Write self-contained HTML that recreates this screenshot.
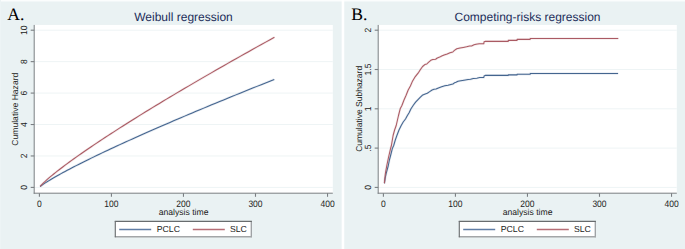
<!DOCTYPE html>
<html><head><meta charset="utf-8"><style>
html,body{margin:0;padding:0;background:#eaf2f3;}
body{width:685px;height:249px;overflow:hidden;}
svg{display:block;font-family:"Liberation Sans",sans-serif;text-rendering:geometricPrecision;}
</style></head><body>
<svg width="685" height="249" viewBox="0 0 685 249">
<rect x="0" y="0" width="685" height="249" fill="#eaf2f3"/>
<rect x="0" y="0" width="685" height="1" fill="#fbfdfd"/>
<rect x="0" y="1" width="685" height="1" fill="#f2f7f8"/>
<rect x="0" y="0" width="1" height="249" fill="#edf4f5"/>
<rect x="341.65" y="0" width="2.6" height="249" fill="#fff"/>
<rect x="34.20" y="24.95" width="298.60" height="168.25" fill="#fff"/>
<line x1="34.20" x2="332.80" y1="187.40" y2="187.40" stroke="#eef4f5" stroke-width="1"/>
<line x1="34.20" x2="332.80" y1="155.96" y2="155.96" stroke="#eef4f5" stroke-width="1"/>
<line x1="34.20" x2="332.80" y1="124.52" y2="124.52" stroke="#eef4f5" stroke-width="1"/>
<line x1="34.20" x2="332.80" y1="93.08" y2="93.08" stroke="#eef4f5" stroke-width="1"/>
<line x1="34.20" x2="332.80" y1="61.64" y2="61.64" stroke="#eef4f5" stroke-width="1"/>
<line x1="34.20" x2="332.80" y1="30.20" y2="30.20" stroke="#eef4f5" stroke-width="1"/>
<path d="M40.12,186.67 L40.45,186.39 L41.05,185.91 L41.82,185.33 L42.74,184.66 L43.78,183.94 L44.93,183.17 L46.18,182.35 L47.53,181.50 L48.96,180.61 L50.47,179.69 L52.06,178.75 L53.72,177.77 L55.46,176.77 L57.26,175.75 L59.13,174.70 L61.07,173.63 L63.06,172.54 L65.11,171.44 L67.22,170.31 L69.39,169.17 L71.61,168.00 L73.89,166.83 L76.22,165.63 L78.60,164.42 L81.03,163.19 L83.51,161.95 L86.03,160.70 L88.61,159.43 L91.23,158.15 L93.89,156.85 L96.61,155.54 L99.36,154.22 L102.16,152.89 L105.00,151.54 L107.88,150.19 L110.81,148.82 L113.77,147.44 L116.78,146.04 L119.83,144.64 L122.91,143.23 L126.04,141.80 L129.20,140.37 L132.40,138.92 L135.64,137.47 L138.91,136.00 L142.22,134.53 L145.57,133.05 L148.95,131.55 L152.37,130.05 L155.82,128.54 L159.31,127.02 L162.84,125.49 L166.39,123.95 L169.98,122.40 L173.61,120.85 L177.26,119.28 L180.95,117.71 L184.68,116.13 L188.43,114.54 L192.22,112.95 L196.04,111.34 L199.89,109.73 L203.77,108.11 L207.68,106.48 L211.62,104.84 L215.59,103.20 L219.60,101.55 L223.63,99.89 L227.69,98.23 L231.79,96.56 L235.91,94.88 L240.06,93.19 L244.24,91.50 L248.45,89.80 L252.68,88.09 L256.95,86.38 L261.24,84.66 L265.56,82.93 L269.91,81.20 L274.29,79.46" fill="none" stroke="#44658f" stroke-opacity="0.13" stroke-width="2.4" stroke-linejoin="round"/>
<path d="M40.12,186.67 L40.45,186.39 L41.05,185.91 L41.82,185.33 L42.74,184.66 L43.78,183.94 L44.93,183.17 L46.18,182.35 L47.53,181.50 L48.96,180.61 L50.47,179.69 L52.06,178.75 L53.72,177.77 L55.46,176.77 L57.26,175.75 L59.13,174.70 L61.07,173.63 L63.06,172.54 L65.11,171.44 L67.22,170.31 L69.39,169.17 L71.61,168.00 L73.89,166.83 L76.22,165.63 L78.60,164.42 L81.03,163.19 L83.51,161.95 L86.03,160.70 L88.61,159.43 L91.23,158.15 L93.89,156.85 L96.61,155.54 L99.36,154.22 L102.16,152.89 L105.00,151.54 L107.88,150.19 L110.81,148.82 L113.77,147.44 L116.78,146.04 L119.83,144.64 L122.91,143.23 L126.04,141.80 L129.20,140.37 L132.40,138.92 L135.64,137.47 L138.91,136.00 L142.22,134.53 L145.57,133.05 L148.95,131.55 L152.37,130.05 L155.82,128.54 L159.31,127.02 L162.84,125.49 L166.39,123.95 L169.98,122.40 L173.61,120.85 L177.26,119.28 L180.95,117.71 L184.68,116.13 L188.43,114.54 L192.22,112.95 L196.04,111.34 L199.89,109.73 L203.77,108.11 L207.68,106.48 L211.62,104.84 L215.59,103.20 L219.60,101.55 L223.63,99.89 L227.69,98.23 L231.79,96.56 L235.91,94.88 L240.06,93.19 L244.24,91.50 L248.45,89.80 L252.68,88.09 L256.95,86.38 L261.24,84.66 L265.56,82.93 L269.91,81.20 L274.29,79.46" fill="none" stroke="#44658f" stroke-width="1.05" stroke-linejoin="round"/>
<path d="M40.12,186.39 L40.45,186.00 L41.05,185.34 L41.82,184.52 L42.74,183.60 L43.78,182.59 L44.93,181.52 L46.19,180.38 L47.53,179.19 L48.96,177.96 L50.48,176.68 L52.07,175.36 L53.73,174.01 L55.47,172.62 L57.27,171.19 L59.14,169.74 L61.08,168.25 L63.07,166.74 L65.13,165.20 L67.24,163.63 L69.41,162.04 L71.63,160.43 L73.91,158.79 L76.24,157.13 L78.62,155.44 L81.05,153.74 L83.53,152.01 L86.06,150.27 L88.64,148.50 L91.26,146.72 L93.93,144.92 L96.64,143.10 L99.40,141.26 L102.20,139.41 L105.04,137.53 L107.93,135.65 L110.85,133.74 L113.82,131.82 L116.83,129.89 L119.88,127.93 L122.96,125.97 L126.09,123.99 L129.25,121.99 L132.46,119.98 L135.69,117.96 L138.97,115.92 L142.28,113.87 L145.63,111.81 L149.02,109.73 L152.44,107.64 L155.90,105.54 L159.39,103.43 L162.91,101.30 L166.47,99.16 L170.06,97.01 L173.69,94.84 L177.35,92.67 L181.04,90.48 L184.77,88.29 L188.52,86.08 L192.31,83.86 L196.13,81.62 L199.98,79.38 L203.87,77.13 L207.78,74.86 L211.73,72.59 L215.70,70.31 L219.71,68.01 L223.74,65.70 L227.81,63.39 L231.90,61.06 L236.03,58.73 L240.18,56.38 L244.36,54.03 L248.57,51.67 L252.81,49.29 L257.08,46.91 L261.38,44.52 L265.70,42.11 L270.05,39.70 L274.43,37.28" fill="none" stroke="#aa5a63" stroke-opacity="0.13" stroke-width="2.4" stroke-linejoin="round"/>
<path d="M40.12,186.39 L40.45,186.00 L41.05,185.34 L41.82,184.52 L42.74,183.60 L43.78,182.59 L44.93,181.52 L46.19,180.38 L47.53,179.19 L48.96,177.96 L50.48,176.68 L52.07,175.36 L53.73,174.01 L55.47,172.62 L57.27,171.19 L59.14,169.74 L61.08,168.25 L63.07,166.74 L65.13,165.20 L67.24,163.63 L69.41,162.04 L71.63,160.43 L73.91,158.79 L76.24,157.13 L78.62,155.44 L81.05,153.74 L83.53,152.01 L86.06,150.27 L88.64,148.50 L91.26,146.72 L93.93,144.92 L96.64,143.10 L99.40,141.26 L102.20,139.41 L105.04,137.53 L107.93,135.65 L110.85,133.74 L113.82,131.82 L116.83,129.89 L119.88,127.93 L122.96,125.97 L126.09,123.99 L129.25,121.99 L132.46,119.98 L135.69,117.96 L138.97,115.92 L142.28,113.87 L145.63,111.81 L149.02,109.73 L152.44,107.64 L155.90,105.54 L159.39,103.43 L162.91,101.30 L166.47,99.16 L170.06,97.01 L173.69,94.84 L177.35,92.67 L181.04,90.48 L184.77,88.29 L188.52,86.08 L192.31,83.86 L196.13,81.62 L199.98,79.38 L203.87,77.13 L207.78,74.86 L211.73,72.59 L215.70,70.31 L219.71,68.01 L223.74,65.70 L227.81,63.39 L231.90,61.06 L236.03,58.73 L240.18,56.38 L244.36,54.03 L248.57,51.67 L252.81,49.29 L257.08,46.91 L261.38,44.52 L265.70,42.11 L270.05,39.70 L274.43,37.28" fill="none" stroke="#aa5a63" stroke-width="1.05" stroke-linejoin="round"/>
<line x1="34.20" x2="34.20" y1="24.95" y2="193.70" stroke="#7a7e82" stroke-width="1.0"/>
<line x1="33.70" x2="332.80" y1="193.20" y2="193.20" stroke="#7a7e82" stroke-width="1.0"/>
<line x1="30.70" x2="34.20" y1="187.40" y2="187.40" stroke="#7a7e82" stroke-width="1.1"/>
<text transform="translate(27.30 187.40) rotate(-90) scale(1 1.06)" text-anchor="middle" font-size="8.5" fill="#222">0</text>
<line x1="30.70" x2="34.20" y1="155.96" y2="155.96" stroke="#7a7e82" stroke-width="1.1"/>
<text transform="translate(27.30 155.96) rotate(-90) scale(1 1.06)" text-anchor="middle" font-size="8.5" fill="#222">2</text>
<line x1="30.70" x2="34.20" y1="124.52" y2="124.52" stroke="#7a7e82" stroke-width="1.1"/>
<text transform="translate(27.30 124.52) rotate(-90) scale(1 1.06)" text-anchor="middle" font-size="8.5" fill="#222">4</text>
<line x1="30.70" x2="34.20" y1="93.08" y2="93.08" stroke="#7a7e82" stroke-width="1.1"/>
<text transform="translate(27.30 93.08) rotate(-90) scale(1 1.06)" text-anchor="middle" font-size="8.5" fill="#222">6</text>
<line x1="30.70" x2="34.20" y1="61.64" y2="61.64" stroke="#7a7e82" stroke-width="1.1"/>
<text transform="translate(27.30 61.64) rotate(-90) scale(1 1.06)" text-anchor="middle" font-size="8.5" fill="#222">8</text>
<line x1="30.70" x2="34.20" y1="30.20" y2="30.20" stroke="#7a7e82" stroke-width="1.1"/>
<text transform="translate(27.30 30.20) rotate(-90) scale(1 1.06)" text-anchor="middle" font-size="8.5" fill="#222">10</text>
<line x1="39.40" x2="39.40" y1="193.20" y2="196.80" stroke="#7a7e82" stroke-width="1.1"/>
<text transform="translate(39.40 206.75) scale(1 1.1)" text-anchor="middle" font-size="8.5" fill="#222">0</text>
<line x1="111.43" x2="111.43" y1="193.20" y2="196.80" stroke="#7a7e82" stroke-width="1.1"/>
<text transform="translate(111.43 206.75) scale(1 1.1)" text-anchor="middle" font-size="8.5" fill="#222">100</text>
<line x1="183.46" x2="183.46" y1="193.20" y2="196.80" stroke="#7a7e82" stroke-width="1.1"/>
<text transform="translate(183.46 206.75) scale(1 1.1)" text-anchor="middle" font-size="8.5" fill="#222">200</text>
<line x1="255.49" x2="255.49" y1="193.20" y2="196.80" stroke="#7a7e82" stroke-width="1.1"/>
<text transform="translate(255.49 206.75) scale(1 1.1)" text-anchor="middle" font-size="8.5" fill="#222">300</text>
<line x1="327.52" x2="327.52" y1="193.20" y2="196.80" stroke="#7a7e82" stroke-width="1.1"/>
<text transform="translate(327.52 206.75) scale(1 1.1)" text-anchor="middle" font-size="8.5" fill="#222">400</text>
<text x="183.60" y="214.5" text-anchor="middle" font-size="8.65" fill="#222">analysis time</text>
<text x="18.30" y="109.20" transform="rotate(-90 18.30 109.20)" text-anchor="middle" font-size="8.6" fill="#222">Cumulative Hazard</text>
<text x="183.50" y="20.6" text-anchor="middle" font-size="12" fill="#1c2d5a">Weibull regression</text>
<text x="7.20" y="19.6" font-family="Liberation Serif" font-size="17.6" fill="#000">A.</text>
<rect x="115.30" y="221.4" width="136.00" height="15.30" fill="#fff"/>
<line x1="251.30" x2="251.30" y1="220.90" y2="237.30" stroke="#9a9ea1" stroke-width="1.3"/>
<line x1="114.80" x2="251.90" y1="236.70" y2="236.70" stroke="#a3a6a8" stroke-width="1.5"/>
<line x1="114.80" x2="251.90" y1="221.40" y2="221.40" stroke="#686c6e" stroke-width="1.15"/>
<line x1="115.30" x2="115.30" y1="220.90" y2="237.30" stroke="#6c7072" stroke-width="1.15"/>
<line x1="119.20" x2="151.20" y1="229.5" y2="229.5" stroke="#5f7da5" stroke-width="1.3"/>
<text x="156.80" y="232.4" font-size="8.7" fill="#222">PCLC</text>
<line x1="192.80" x2="224.80" y1="229.5" y2="229.5" stroke="#b66e76" stroke-width="1.3"/>
<text x="229.90" y="232.4" font-size="8.7" fill="#222">SLC</text>
<rect x="378.20" y="24.95" width="298.60" height="168.25" fill="#fff"/>
<line x1="378.20" x2="676.80" y1="187.40" y2="187.40" stroke="#eef4f5" stroke-width="1"/>
<line x1="378.20" x2="676.80" y1="148.10" y2="148.10" stroke="#eef4f5" stroke-width="1"/>
<line x1="378.20" x2="676.80" y1="108.80" y2="108.80" stroke="#eef4f5" stroke-width="1"/>
<line x1="378.20" x2="676.80" y1="69.50" y2="69.50" stroke="#eef4f5" stroke-width="1"/>
<line x1="378.20" x2="676.80" y1="30.20" y2="30.20" stroke="#eef4f5" stroke-width="1"/>
<path d="M384.40,183.30 L385.20,178.00 L386.20,173.40 L388.20,166.00 L389.40,160.00 L390.60,155.50 L392.40,148.40 L393.70,145.50 L395.30,140.00 L396.90,135.50 L399.00,130.00 L401.20,125.50 L403.20,122.00 L405.50,119.00 L407.40,115.50 L409.10,112.80 L411.00,108.80 L413.30,105.30 L415.60,102.10 L418.00,99.60 L420.40,97.20 L422.80,94.90 L425.20,94.00 L427.30,93.20 L429.70,91.60 L432.10,90.00 L434.00,89.30 L436.00,89.10 L438.40,88.00 L441.60,86.80 L444.80,85.80 L448.00,85.20 L450.90,84.40 L452.90,84.00 L454.50,82.80 L456.00,82.30 L458.00,81.30 L460.80,80.70 L464.00,80.20 L468.10,79.50 L470.50,79.30 L473.30,78.50 L476.90,78.20 L479.70,77.60 L483.80,77.50 L484.10,76.00 L485.60,75.35 L508.30,75.35 L508.30,74.85 L517.10,74.85 L517.10,74.30 L530.20,74.30 L530.20,73.50 L618.10,73.50" fill="none" stroke="#44658f" stroke-opacity="0.13" stroke-width="2.4" stroke-linejoin="round"/>
<path d="M384.40,183.30 L385.20,178.00 L386.20,173.40 L388.20,166.00 L389.40,160.00 L390.60,155.50 L392.40,148.40 L393.70,145.50 L395.30,140.00 L396.90,135.50 L399.00,130.00 L401.20,125.50 L403.20,122.00 L405.50,119.00 L407.40,115.50 L409.10,112.80 L411.00,108.80 L413.30,105.30 L415.60,102.10 L418.00,99.60 L420.40,97.20 L422.80,94.90 L425.20,94.00 L427.30,93.20 L429.70,91.60 L432.10,90.00 L434.00,89.30 L436.00,89.10 L438.40,88.00 L441.60,86.80 L444.80,85.80 L448.00,85.20 L450.90,84.40 L452.90,84.00 L454.50,82.80 L456.00,82.30 L458.00,81.30 L460.80,80.70 L464.00,80.20 L468.10,79.50 L470.50,79.30 L473.30,78.50 L476.90,78.20 L479.70,77.60 L483.80,77.50 L484.10,76.00 L485.60,75.35 L508.30,75.35 L508.30,74.85 L517.10,74.85 L517.10,74.30 L530.20,74.30 L530.20,73.50 L618.10,73.50" fill="none" stroke="#44658f" stroke-width="1.05" stroke-linejoin="round"/>
<path d="M384.40,183.30 L384.90,178.00 L385.40,173.40 L386.80,165.50 L388.60,157.00 L390.60,148.40 L391.40,145.50 L393.10,135.50 L394.60,130.00 L396.20,125.50 L398.50,115.50 L400.20,108.80 L401.90,105.50 L404.00,100.00 L406.00,95.50 L408.20,90.00 L410.40,86.00 L412.30,81.60 L415.30,76.60 L418.70,72.30 L420.60,69.30 L422.60,66.50 L424.80,64.60 L426.80,64.00 L428.40,62.40 L430.80,60.30 L432.80,59.50 L435.60,59.20 L437.30,58.00 L439.70,57.10 L441.70,56.00 L444.10,55.00 L447.20,54.00 L450.00,52.80 L452.80,52.00 L454.40,50.40 L456.80,48.80 L460.00,48.00 L463.30,47.40 L466.50,46.80 L469.70,46.00 L471.60,45.90 L474.00,44.80 L476.00,44.30 L479.20,43.80 L483.80,43.70 L484.10,41.80 L485.60,41.35 L508.30,41.35 L508.30,40.35 L517.10,40.35 L517.10,39.35 L530.20,39.35 L530.20,38.45 L618.30,38.45" fill="none" stroke="#aa5a63" stroke-opacity="0.13" stroke-width="2.4" stroke-linejoin="round"/>
<path d="M384.40,183.30 L384.90,178.00 L385.40,173.40 L386.80,165.50 L388.60,157.00 L390.60,148.40 L391.40,145.50 L393.10,135.50 L394.60,130.00 L396.20,125.50 L398.50,115.50 L400.20,108.80 L401.90,105.50 L404.00,100.00 L406.00,95.50 L408.20,90.00 L410.40,86.00 L412.30,81.60 L415.30,76.60 L418.70,72.30 L420.60,69.30 L422.60,66.50 L424.80,64.60 L426.80,64.00 L428.40,62.40 L430.80,60.30 L432.80,59.50 L435.60,59.20 L437.30,58.00 L439.70,57.10 L441.70,56.00 L444.10,55.00 L447.20,54.00 L450.00,52.80 L452.80,52.00 L454.40,50.40 L456.80,48.80 L460.00,48.00 L463.30,47.40 L466.50,46.80 L469.70,46.00 L471.60,45.90 L474.00,44.80 L476.00,44.30 L479.20,43.80 L483.80,43.70 L484.10,41.80 L485.60,41.35 L508.30,41.35 L508.30,40.35 L517.10,40.35 L517.10,39.35 L530.20,39.35 L530.20,38.45 L618.30,38.45" fill="none" stroke="#aa5a63" stroke-width="1.05" stroke-linejoin="round"/>
<line x1="378.20" x2="378.20" y1="24.95" y2="193.70" stroke="#7a7e82" stroke-width="1.0"/>
<line x1="377.70" x2="676.80" y1="193.20" y2="193.20" stroke="#7a7e82" stroke-width="1.0"/>
<line x1="374.70" x2="378.20" y1="187.40" y2="187.40" stroke="#7a7e82" stroke-width="1.1"/>
<text transform="translate(371.30 187.40) rotate(-90) scale(1 1.06)" text-anchor="middle" font-size="8.5" fill="#222">0</text>
<line x1="374.70" x2="378.20" y1="148.10" y2="148.10" stroke="#7a7e82" stroke-width="1.1"/>
<text transform="translate(371.30 148.10) rotate(-90) scale(1 1.06)" text-anchor="middle" font-size="8.5" fill="#222">.5</text>
<line x1="374.70" x2="378.20" y1="108.80" y2="108.80" stroke="#7a7e82" stroke-width="1.1"/>
<text transform="translate(371.30 108.80) rotate(-90) scale(1 1.06)" text-anchor="middle" font-size="8.5" fill="#222">1</text>
<line x1="374.70" x2="378.20" y1="69.50" y2="69.50" stroke="#7a7e82" stroke-width="1.1"/>
<text transform="translate(371.30 69.50) rotate(-90) scale(1 1.06)" text-anchor="middle" font-size="8.5" fill="#222">1.5</text>
<line x1="374.70" x2="378.20" y1="30.20" y2="30.20" stroke="#7a7e82" stroke-width="1.1"/>
<text transform="translate(371.30 30.20) rotate(-90) scale(1 1.06)" text-anchor="middle" font-size="8.5" fill="#222">2</text>
<line x1="383.40" x2="383.40" y1="193.20" y2="196.80" stroke="#7a7e82" stroke-width="1.1"/>
<text transform="translate(383.40 206.75) scale(1 1.1)" text-anchor="middle" font-size="8.5" fill="#222">0</text>
<line x1="455.43" x2="455.43" y1="193.20" y2="196.80" stroke="#7a7e82" stroke-width="1.1"/>
<text transform="translate(455.43 206.75) scale(1 1.1)" text-anchor="middle" font-size="8.5" fill="#222">100</text>
<line x1="527.46" x2="527.46" y1="193.20" y2="196.80" stroke="#7a7e82" stroke-width="1.1"/>
<text transform="translate(527.46 206.75) scale(1 1.1)" text-anchor="middle" font-size="8.5" fill="#222">200</text>
<line x1="599.49" x2="599.49" y1="193.20" y2="196.80" stroke="#7a7e82" stroke-width="1.1"/>
<text transform="translate(599.49 206.75) scale(1 1.1)" text-anchor="middle" font-size="8.5" fill="#222">300</text>
<line x1="671.52" x2="671.52" y1="193.20" y2="196.80" stroke="#7a7e82" stroke-width="1.1"/>
<text transform="translate(671.52 206.75) scale(1 1.1)" text-anchor="middle" font-size="8.5" fill="#222">400</text>
<text x="527.60" y="214.5" text-anchor="middle" font-size="8.65" fill="#222">analysis time</text>
<text x="362.30" y="108.85" transform="rotate(-90 362.30 108.85)" text-anchor="middle" font-size="8.5" fill="#222">Cumulative Subhazard</text>
<text x="527.50" y="20.6" text-anchor="middle" font-size="12" fill="#1c2d5a">Competing-risks regression</text>
<text x="351.20" y="19.6" font-family="Liberation Serif" font-size="17.6" fill="#000">B.</text>
<rect x="459.30" y="221.4" width="136.00" height="15.30" fill="#fff"/>
<line x1="595.30" x2="595.30" y1="220.90" y2="237.30" stroke="#9a9ea1" stroke-width="1.3"/>
<line x1="458.80" x2="595.90" y1="236.70" y2="236.70" stroke="#a3a6a8" stroke-width="1.5"/>
<line x1="458.80" x2="595.90" y1="221.40" y2="221.40" stroke="#686c6e" stroke-width="1.15"/>
<line x1="459.30" x2="459.30" y1="220.90" y2="237.30" stroke="#6c7072" stroke-width="1.15"/>
<line x1="463.20" x2="495.20" y1="229.5" y2="229.5" stroke="#5f7da5" stroke-width="1.3"/>
<text x="500.80" y="232.4" font-size="8.7" fill="#222">PCLC</text>
<line x1="536.80" x2="568.80" y1="229.5" y2="229.5" stroke="#b66e76" stroke-width="1.3"/>
<text x="573.90" y="232.4" font-size="8.7" fill="#222">SLC</text>
</svg>
</body></html>
